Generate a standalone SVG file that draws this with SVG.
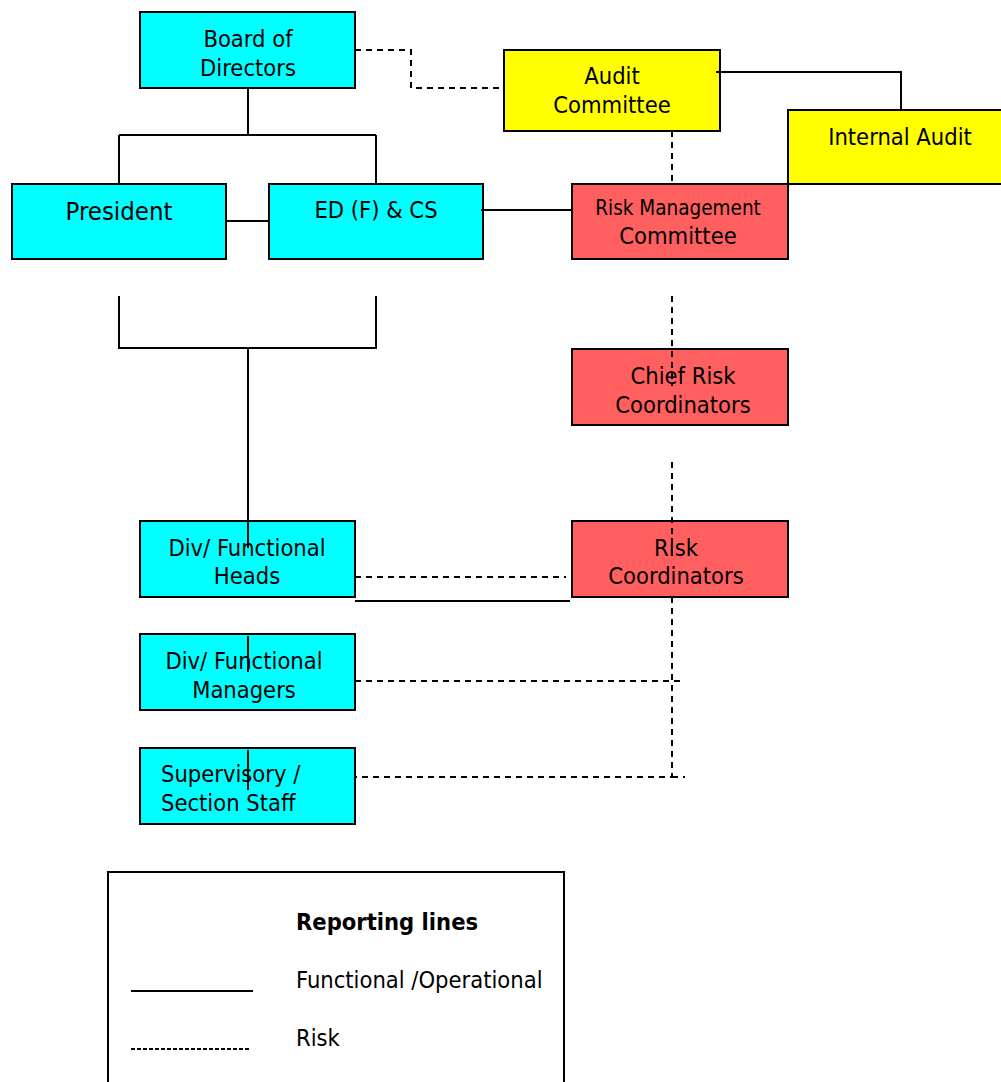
<svg xmlns="http://www.w3.org/2000/svg" width="1001" height="1082" viewBox="0 0 1001 1082">
  <style>
    .box { stroke: #000; stroke-width: 2; }
    .cyan { fill: #00ffff; }
    .yellow { fill: #ffff00; }
    .red { fill: #ff5f5f; }
    text { font-family: "DejaVu Sans Condensed", "DejaVu Sans", sans-serif; font-size: 23.5px; fill: #000; }
    .c { text-anchor: middle; }
    .solid { stroke: #000; stroke-width: 2; fill: none; }
    .dash { stroke: #000; stroke-width: 2; fill: none; stroke-dasharray: 6 5; }
  </style>
  <rect width="1001" height="1082" fill="#fff"/>

  <g id="board">
    <rect class="box cyan" x="140" y="12" width="215" height="76"/>
    <text class="c" x="248" y="47">Board of</text>
    <text class="c" x="248" y="76">Directors</text>
  </g>
  <g id="audit-committee">
    <rect class="box yellow" x="504" y="50" width="216" height="81"/>
    <text class="c" x="612" y="84">Audit</text>
    <text class="c" x="612" y="113">Committee</text>
  </g>
  <g id="internal-audit">
    <rect class="box yellow" x="788" y="110" width="216" height="74"/>
    <text class="c" x="900" y="145">Internal Audit</text>
  </g>
  <g id="president">
    <rect class="box cyan" x="12" y="184" width="214" height="75"/>
    <text class="c" x="119" y="220" style="font-size:25.5px">President</text>
  </g>
  <g id="ed-cs">
    <rect class="box cyan" x="269" y="184" width="214" height="75"/>
    <text class="c" x="376" y="218">ED (F) &amp; CS</text>
  </g>
  <g id="risk-management-committee">
    <rect class="box red" x="572" y="184" width="216" height="75"/>
    <text class="c" x="678" y="215" style="font-size:20.5px">Risk Management</text>
    <text class="c" x="678" y="244">Committee</text>
  </g>
  <g id="chief-risk-coordinators">
    <rect class="box red" x="572" y="349" width="216" height="76"/>
    <text class="c" x="683" y="384">Chief Risk</text>
    <text class="c" x="683" y="413">Coordinators</text>
  </g>
  <g id="risk-coordinators">
    <rect class="box red" x="572" y="521" width="216" height="76"/>
    <text class="c" x="676" y="556">Risk</text>
    <text class="c" x="676" y="584">Coordinators</text>
  </g>
  <g id="div-heads">
    <rect class="box cyan" x="140" y="521" width="215" height="76"/>
    <text class="c" x="247" y="556">Div/ Functional</text>
    <text class="c" x="247" y="584">Heads</text>
  </g>
  <g id="div-managers">
    <rect class="box cyan" x="140" y="634" width="215" height="76"/>
    <text class="c" x="244" y="669">Div/ Functional</text>
    <text class="c" x="244" y="698">Managers</text>
  </g>
  <g id="supervisory">
    <rect class="box cyan" x="140" y="748" width="215" height="76"/>
    <text x="161" y="782">Supervisory /</text>
    <text x="161" y="811">Section Staff</text>
  </g>

  <!-- connectors sit on top of the boxes, so their ends show inside them -->
  <g id="connectors">
    <!-- functional / operational lines -->
    <path class="solid" d="M248 88 V135 M119 135 H376 M119 135 V184 M376 135 V184"/>
    <path class="solid" d="M226 221 H269"/>
    <path class="solid" d="M481 210 H572"/>
    <path class="solid" d="M716 72 H901 V110"/>
    <path class="solid" d="M119 296 V348 H376 V296 M248 348 V548"/>
    <path class="solid" d="M355 601 H570"/>
    <path class="solid" d="M248 636 V672 M248 750 V790"/>
    <!-- risk lines -->
    <path class="dash" d="M355 50 H411 V88 H504"/>
    <path class="dash" d="M672 131 V184"/>
    <path class="dash" d="M672 296 V386 M672 462 V560 M672 597 V777 H355"/>
    <path class="dash" d="M355 577 H566"/>
    <path class="dash" d="M355 681 H685 M672 777 H685"/>
  </g>

  <g id="legend">
    <rect x="108" y="872" width="456" height="220" fill="#fff" stroke="#000" stroke-width="2"/>
    <text x="296" y="930" style="font-weight:bold">Reporting lines</text>
    <text x="296" y="988">Functional /Operational</text>
    <text x="296" y="1046">Risk</text>
    <line x1="131" y1="991" x2="253" y2="991" stroke="#000" stroke-width="2"/>
    <line x1="131" y1="1049" x2="249" y2="1049" stroke="#000" stroke-width="2" stroke-dasharray="4 2"/>
  </g>
</svg>
